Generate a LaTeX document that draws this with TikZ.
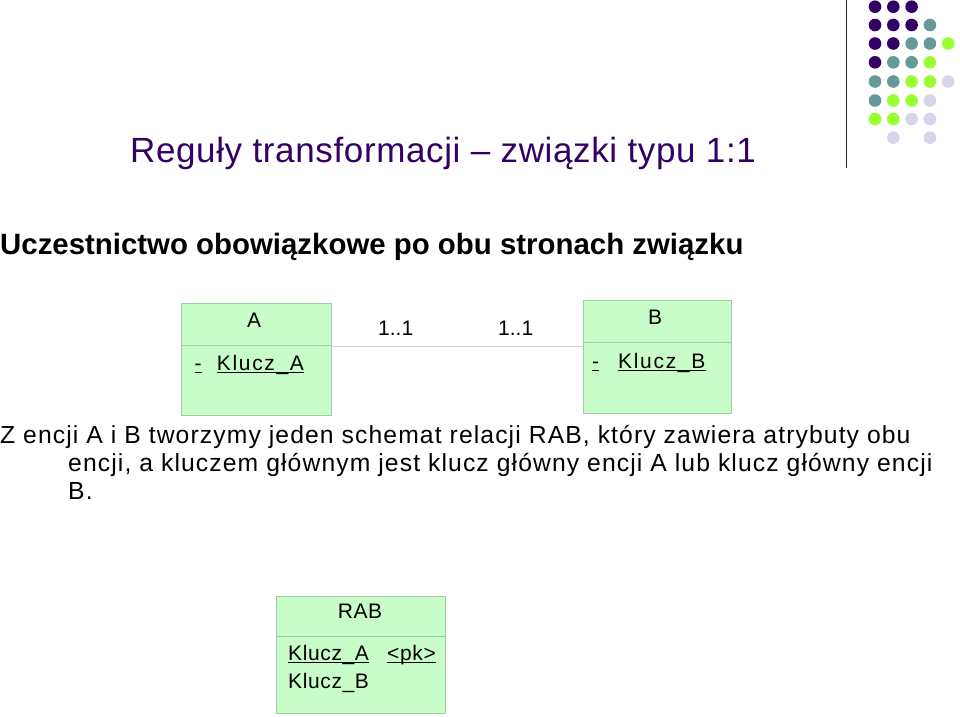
\documentclass[tikz,border=0pt]{standalone}
\usepackage{fontspec}
\setmainfont{Liberation Sans}
\definecolor{dpurple}{HTML}{330066}
\definecolor{dteal}{HTML}{669999}
\definecolor{dgreen}{HTML}{99FF33}
\definecolor{dlav}{HTML}{D6D6EB}
\definecolor{boxfill}{HTML}{C8FCC8}
\definecolor{boxline}{HTML}{9FCF9F}
\definecolor{linkgray}{HTML}{D0D0D0}
\newcommand{\ftitle}{\fontsize{35}{40}\selectfont\addfontfeatures{LetterSpace=1.8}}
\newcommand{\fsub}{\fontsize{29.4}{34}\selectfont\bfseries}
\newcommand{\fpar}{\fontsize{24.7}{29}\selectfont\addfontfeatures{LetterSpace=4.5}}
\newcommand{\fbx}{\fontsize{21}{25}\selectfont\addfontfeatures{LetterSpace=8}}
\newcommand{\fbr}{\fontsize{21}{25}\selectfont\addfontfeatures{LetterSpace=3}}
\newcommand{\fmul}{\fontsize{21}{25}\selectfont}
\begin{document}
\begin{tikzpicture}[x=1pt,y=-1pt,
  txt/.style={inner sep=0pt, anchor=base west},
  ctxt/.style={inner sep=0pt, anchor=base},
  umlbox/.style={draw=boxline, fill=boxfill, line width=0.8pt},
  hdr/.style={draw=boxline, line width=0.8pt},
  uline/.style={line width=1pt},
  dot/.style={circle, inner sep=0pt, minimum size=12.6pt}]
\useasboundingbox (0,0) rectangle (960,716);
\fill[white] (0,0) rectangle (960,716);

% decoration
\draw[line width=1.5pt, black!85] (846.7,0) -- (846.7,168);
\def\dotrow#1#2#3{%
  \foreach \c/\col in {#3} {
    \node[dot, fill=\col] at (875+18.3*\c, #2) {};
  }}
\dotrow{0}{6.7}{0/dpurple,1/dpurple,2/dpurple}
\dotrow{1}{25}{0/dpurple,1/dpurple,2/dpurple,3/dteal}
\dotrow{2}{43.5}{0/dpurple,1/dpurple,2/dteal,3/dteal,4/dgreen}
\dotrow{3}{62.3}{0/dpurple,1/dteal,2/dteal,3/dgreen}
\dotrow{4}{81.5}{0/dteal,1/dteal,2/dgreen,3/dgreen,4/dlav}
\dotrow{5}{100.5}{0/dteal,1/dgreen,2/dgreen,3/dlav}
\dotrow{6}{119}{0/dgreen,1/dgreen,2/dlav,3/dlav}
\dotrow{7}{137.7}{1/dlav,3/dlav}

% title
\node[txt, text=dpurple] (title) at (130,162) {\ftitle Reguły transformacji – związki typu 1:1};
\node[txt] (sub) at (0,254) {\fsub Uczestnictwo obowiązkowe po obu stronach związku};

% box A
\draw[umlbox] (181.7,303.3) rectangle (331.7,415);
\draw[hdr] (181.7,345) -- (331.7,345);
\node[ctxt] (Aname) at (254,327) {\fbx A};
\node[txt] (Adash) at (194.5,370) {\fbx -};
\node[txt] (Akey) at (216.7,370) {\fbx Klucz\_A};
\draw[uline] ([yshift=-2.5pt]Adash.base west) -- ([yshift=-2.5pt]Adash.base east);
\draw[uline] ([yshift=-2.5pt]Akey.base west) -- ([yshift=-2.5pt]Akey.base east);

% box B
\draw[umlbox] (583.3,300) rectangle (731.7,413.3);
\draw[hdr] (583.3,342.7) -- (731.7,342.7);
\node[ctxt] (Bname) at (655,324) {\fbx B};
\node[txt] (Bdash) at (592,368.3) {\fbx -};
\node[txt] (Bkey) at (618,368.3) {\fbx Klucz\_B};
\draw[uline] ([yshift=-2.5pt]Bdash.base west) -- ([yshift=-2.5pt]Bdash.base east);
\draw[uline] ([yshift=-2.5pt]Bkey.base west) -- ([yshift=-2.5pt]Bkey.base east);

% association
\coordinate (ca) at (331.7,346.7);
\coordinate (cb) at (583.3,346.7);
\draw[linkgray, line width=1.5pt] (ca) -- (cb);
\node[txt] (m1) at (378,335) {\fmul 1..1};
\node[txt] (m2) at (498,335) {\fmul 1..1};

% paragraph
\node[txt] (p1) at (0,443.5) {\fpar Z encji A i B tworzymy jeden schemat relacji RAB, który zawiera atrybuty obu};
\node[txt] (p2) at (68,471) {\fpar encji, a kluczem głównym jest klucz główny encji A lub klucz główny encji};
\node[txt] (p3) at (68,499) {\fpar B.};

% RAB box
\draw[umlbox] (276.7,596.7) rectangle (445,713.3);
\draw[hdr] (276.7,636.7) -- (445,636.7);
\node[ctxt] (RABname) at (360,618.3) {\fbr RAB};
\node[txt] (Rka) at (288,660) {\fbr Klucz\_A};
\node[txt] (Rpk) at (387,660) {\fbr <pk>};
\node[txt] (Rkb) at (288,688.3) {\fbr Klucz\_B};
\draw[uline] ([yshift=-2.5pt]Rka.base west) -- ([yshift=-2.5pt]Rka.base east);
\draw[uline] ([yshift=-2.5pt]Rpk.base west) -- ([yshift=-2.5pt]Rpk.base east);
\end{tikzpicture}
\end{document}
